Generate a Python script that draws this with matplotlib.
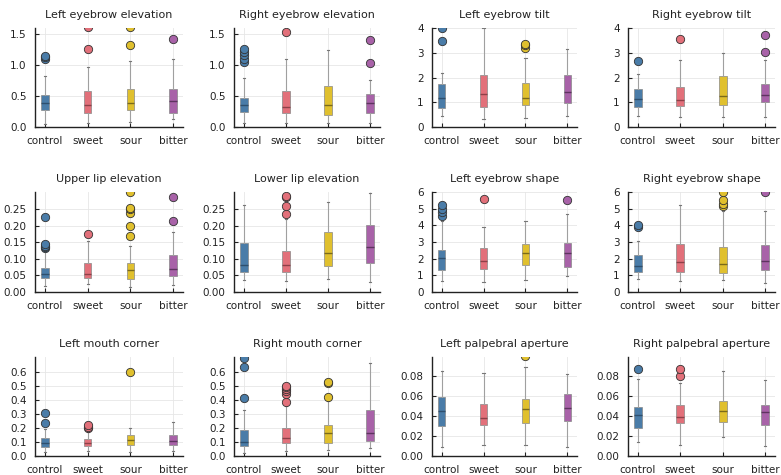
import matplotlib
matplotlib.use("Agg")
import matplotlib.pyplot as plt

categories = ["control", "sweet", "sour", "bitter"]
colors = ["#4a7ca8", "#e2707a", "#e0c02e", "#a862a8"]
median_colors = ["#2e4f6e", "#8e4048", "#7a6a1a", "#5e3460"]

titles = [
    "Left eyebrow elevation", "Right eyebrow elevation", "Left eyebrow tilt", "Right eyebrow tilt",
    "Upper lip elevation", "Lower lip elevation", "Left eyebrow shape", "Right eyebrow shape",
    "Left mouth corner", "Right mouth corner", "Left palpebral aperture", "Right palpebral aperture",
]

whislo = [
    [0.055, 0.06, 0.08, 0.13], [0.065, 0.06, 0.06, 0.06], [0.45, 0.34, 0.38, 0.45], [0.46, 0.40, 0.40, 0.40],
    [0.017, 0.023, 0.015, 0.020], [0.037, 0.033, 0.040, 0.030], [0.65, 0.60, 0.70, 0.95], [0.81, 0.65, 0.75, 0.57],
    [0.030, 0.033, 0.028, 0.033], [0.024, 0.035, 0.045, 0.060], [0.0094, 0.011, 0.011, 0.0094], [0.0136, 0.011, 0.0186, 0.010],
]
q1 = [
    [0.27, 0.23, 0.27, 0.23], [0.24, 0.23, 0.20, 0.23], [0.75, 0.81, 0.88, 0.98], [0.81, 0.84, 0.88, 1.00],
    [0.043, 0.042, 0.040, 0.048], [0.060, 0.060, 0.078, 0.088], [1.35, 1.41, 1.62, 1.52], [1.21, 1.21, 1.17, 1.35],
    [0.064, 0.070, 0.080, 0.080], [0.070, 0.092, 0.094, 0.106], [0.030, 0.031, 0.033, 0.0346], [0.028, 0.033, 0.034, 0.0315],
]
med = [
    [0.39, 0.36, 0.39, 0.42], [0.35, 0.32, 0.36, 0.39], [1.19, 1.32, 1.19, 1.42], [1.14, 1.08, 1.24, 1.28],
    [0.055, 0.055, 0.067, 0.070], [0.083, 0.082, 0.118, 0.135], [2.02, 1.86, 2.32, 2.32], [1.56, 1.78, 1.68, 1.88],
    [0.094, 0.094, 0.115, 0.110], [0.100, 0.130, 0.162, 0.162], [0.045, 0.038, 0.047, 0.0474], [0.0407, 0.039, 0.045, 0.044],
]
q3 = [
    [0.52, 0.58, 0.61, 0.61], [0.47, 0.58, 0.66, 0.53], [1.74, 2.10, 1.79, 2.10], [1.54, 1.62, 2.05, 1.75],
    [0.073, 0.088, 0.088, 0.113], [0.148, 0.123, 0.180, 0.202], [2.52, 2.67, 2.87, 2.97], [2.22, 2.87, 2.73, 2.83],
    [0.127, 0.122, 0.150, 0.150], [0.188, 0.200, 0.220, 0.330], [0.059, 0.052, 0.057, 0.0615], [0.0495, 0.051, 0.055, 0.051],
]
whishi = [
    [0.82, 0.97, 1.06, 1.09], [0.79, 1.10, 1.24, 0.75], [2.20, 4.00, 2.78, 3.15], [2.15, 2.69, 3.00, 2.72],
    [0.125, 0.155, 0.140, 0.182], [0.262, 0.220, 0.273, 0.300], [4.24, 3.88, 4.28, 4.70], [3.07, 5.21, 4.89, 4.89],
    [0.190, 0.170, 0.198, 0.245], [0.330, 0.358, 0.390, 0.660], [0.085, 0.083, 0.089, 0.082], [0.077, 0.073, 0.085, 0.076],
]
fliers = [
    [[1.10, 1.12, 1.14], [1.25, 1.60], [1.31, 1.60], [1.42]],
    [[1.05, 1.10, 1.15, 1.20, 1.25], [1.53], [], [1.03, 1.40]],
    [[3.48, 4.00], [], [3.20, 3.30, 3.35], []],
    [[2.68], [3.54], [], [3.03, 3.70]],
    [[0.133, 0.137, 0.140, 0.145, 0.225], [0.175], [0.168, 0.200, 0.240, 0.250, 0.255, 0.302], [0.215, 0.288]],
    [[], [0.235, 0.260, 0.287, 0.290], [], []],
    [[4.55, 4.80, 5.00, 5.25], [5.58], [], [5.50]],
    [[3.90, 4.00], [], [5.15, 5.30, 5.50, 6.00], [6.00]],
    [[0.235, 0.305], [0.200, 0.210, 0.220], [0.600], []],
    [[0.410, 0.635, 0.700], [0.385, 0.440, 0.460, 0.475, 0.490, 0.500], [0.420, 0.520, 0.525], []],
    [[], [], [0.099], []],
    [[0.087], [0.080, 0.087], [], []],
]
ylims = [1.59, 1.59, 4.0, 4.0, 0.302, 0.302, 6.0, 6.0, 0.705, 0.705, 0.0985, 0.099]
yticks = [
    [0, 0.5, 1.0, 1.5], [0, 0.5, 1.0, 1.5], [0, 1, 2, 3, 4], [0, 1, 2, 3, 4],
    [0, 0.05, 0.10, 0.15, 0.20, 0.25], [0, 0.05, 0.10, 0.15, 0.20, 0.25],
    [0, 1, 2, 3, 4, 5, 6], [0, 1, 2, 3, 4, 5, 6],
    [0, 0.1, 0.2, 0.3, 0.4, 0.5, 0.6], [0, 0.1, 0.2, 0.3, 0.4, 0.5, 0.6],
    [0, 0.02, 0.04, 0.06, 0.08], [0, 0.02, 0.04, 0.06, 0.08],
]
yfmt = ["{:.1f}", "{:.1f}", "{:.0f}", "{:.0f}", "{:.2f}", "{:.2f}", "{:.0f}", "{:.0f}",
        "{:.1f}", "{:.1f}", "{:.2f}", "{:.2f}"]

W, H = 781, 475
fig = plt.figure(figsize=(W / 100, H / 100), dpi=100)
col_lr = [(35, 183), (234, 380), (432, 577), (628, 775)]
row_tb = [(28, 127), (192, 292), (357, 456)]
positions = [0.5, 1.5, 2.5, 3.5]

for i in range(12):
    r, c = divmod(i, 4)
    l, rr = col_lr[c]
    t, b = row_tb[r]
    ax = fig.add_axes([l / W, 1 - b / H, (rr - l) / W, (b - t) / H])
    stats = []
    for j in range(4):
        stats.append(dict(whislo=whislo[i][j], q1=q1[i][j], med=med[i][j], q3=q3[i][j],
                          whishi=whishi[i][j], fliers=fliers[i][j]))
    bp = ax.bxp(stats, positions=positions, widths=0.18, patch_artist=True, showfliers=True,
                capwidths=0.05, manage_ticks=False,
                whiskerprops=dict(color="#a0a0a0", linewidth=0.8),
                capprops=dict(color="#777777", linewidth=0.8),
                boxprops=dict(linewidth=0.5),
                medianprops=dict(linewidth=1.0))
    for j in range(4):
        bp["boxes"][j].set_facecolor(colors[j])
        bp["boxes"][j].set_edgecolor("#888888")
        bp["medians"][j].set_color(median_colors[j])
        f = bp["fliers"][j]
        f.set_marker("o")
        f.set_markerfacecolor(colors[j])
        f.set_markeredgecolor("#333333")
        f.set_markeredgewidth(0.6)
        f.set_markersize(6)
        f.set_zorder(4)
    ax.set_xlim(0.27, 3.73)
    ax.set_ylim(0, ylims[i])
    ax.set_xticks(positions)
    ax.set_xticklabels(categories)
    ax.set_yticks(yticks[i])
    ax.set_yticklabels([yfmt[i].format(v) for v in yticks[i]])
    ax.set_title(titles[i], fontsize=8, color="#222222", pad=7)
    ax.tick_params(axis="both", labelsize=7.5, direction="in", length=3, width=0.8,
                   colors="#222222")
    ax.tick_params(axis="x", pad=6.5)
    ax.tick_params(axis="y", pad=6)
    ax.grid(True, color="#e6e6e6", linewidth=0.6)
    ax.set_axisbelow(True)
    for s in ["top", "right"]:
        ax.spines[s].set_visible(False)
    for s in ["left", "bottom"]:
        ax.spines[s].set_linewidth(1.0)
        ax.spines[s].set_color("#222222")

fig.savefig("out.png", dpi=100)
